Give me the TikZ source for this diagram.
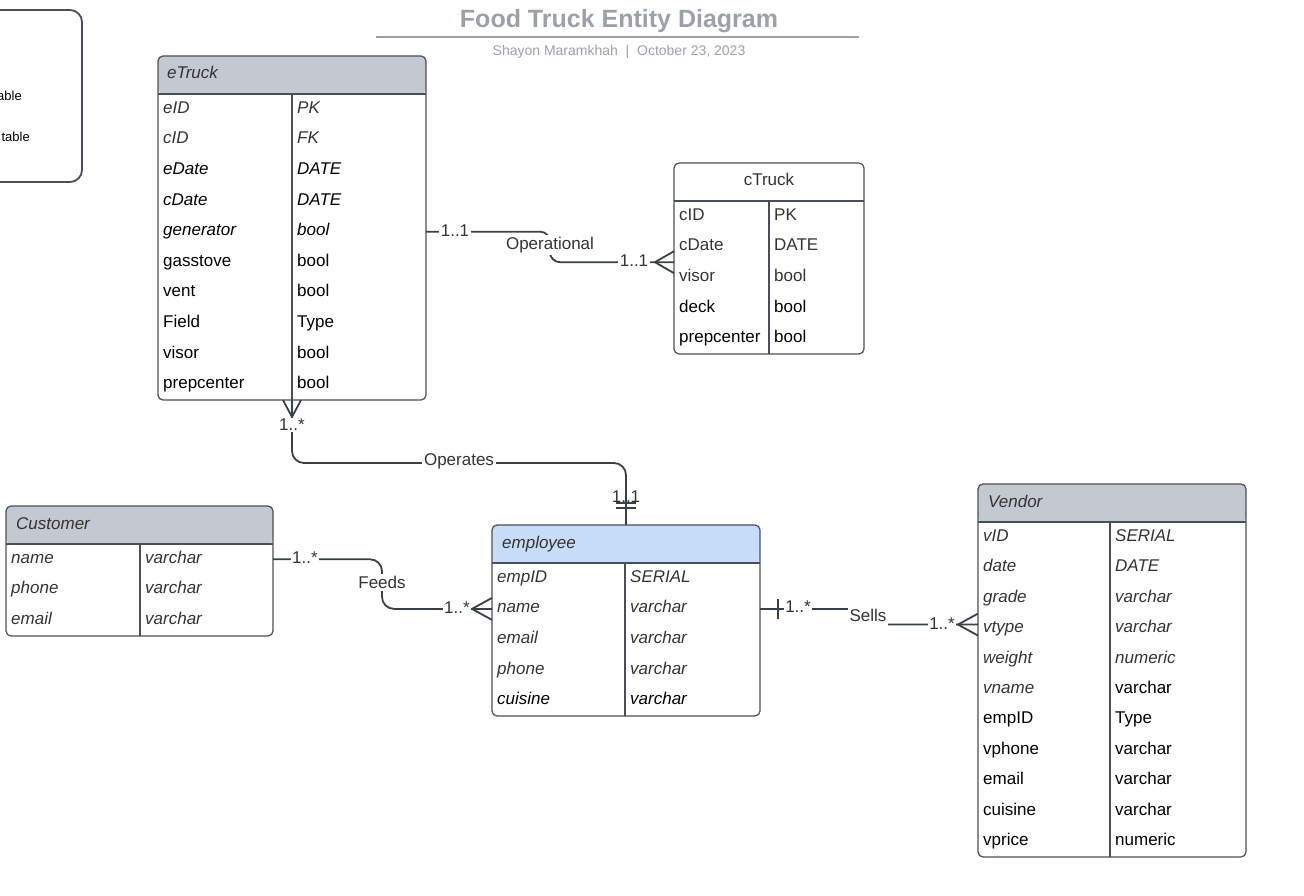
\documentclass[tikz,border=0pt]{standalone}
\usepackage{fontspec}
\setmainfont{Liberation Sans}
\usetikzlibrary{positioning}

\definecolor{hdrgray}{HTML}{C3C8D1}
\definecolor{hdrblue}{HTML}{C7DCF8}
\definecolor{framegray}{HTML}{4A4F57}
\definecolor{linegray}{HTML}{3A4048}
\definecolor{txtgray}{HTML}{333333}
\definecolor{titlegray}{HTML}{9BA1A9}
\newcommand{\rowfont}{\fontsize{17}{19}\selectfont}

\begin{document}
\begin{tikzpicture}[
    x=1pt, y=-1pt,
    frame/.style={draw=framegray, line width=1.2pt, rounded corners=5pt, inner sep=0pt, outer sep=0pt, anchor=north west},
    hdrfill/.style={path picture={\fill[#1] (path picture bounding box.north west) rectangle ([yshift=-38pt]path picture bounding box.north east);}},
    frameline/.style={draw=framegray, line width=1.2pt},
    ig/.style={anchor=base west, inner sep=0pt, font=\rowfont\itshape, text=txtgray},
    ib/.style={anchor=base west, inner sep=0pt, font=\rowfont\itshape, text=black},
    ng/.style={anchor=base west, inner sep=0pt, font=\rowfont, text=txtgray},
    nb/.style={anchor=base west, inner sep=0pt, font=\rowfont, text=black},
    conn/.style={draw=linegray, line width=1.8pt},
    card/.style={font=\rowfont, text=txtgray, fill=white, inner sep=1.5pt},
    rel/.style={font=\rowfont, text=txtgray, fill=white, inner sep=2pt}
]
    \useasboundingbox (0,0) rectangle (1304,896);

    % Title block
    \node [font=\fontsize{25}{28}\selectfont\bfseries, text=titlegray, anchor=base] (title) at (619,28) {Food Truck Entity Diagram};
    \draw [titlegray, line width=1.6pt] (376,37) -- (859,37);
    \node [font=\fontsize{14}{16}\selectfont, text=titlegray, anchor=base] (byline) at (619,56) {Shayon Maramkhah \ | \ October 23, 2023};

    % Legend (cut off at the left edge)
    \draw [draw=framegray, line width=1.8pt, rounded corners=12pt] (-30,10) rectangle (82,182);
    \node [anchor=base east, inner sep=0pt, font=\fontsize{13}{16}\selectfont] (legend-1) at (22,101) {able};
    \node [anchor=base east, inner sep=0pt, font=\fontsize{13}{16}\selectfont] (legend-2) at (30,142) {table};

    % eTruck
    \node [frame, hdrfill=hdrgray, minimum width=268pt, minimum height=344pt] (etruck) at (158,56) {};
    \draw [frameline] ([yshift=-38pt]etruck.north west) -- ([yshift=-38pt]etruck.north east);
    \draw [frameline] ([xshift=134pt,yshift=-38pt]etruck.north west) -- ([xshift=134pt]etruck.south west);
    \node [ig] (etruck-title) at (167,79) {eTruck};
    \foreach \f/\s/\t/\u [count=\i] in {eID/ig/PK/ig, cID/ig/FK/ig, eDate/ib/DATE/ib, cDate/ib/DATE/ib, generator/ib/bool/ib, gasstove/nb/bool/nb, vent/nb/bool/nb, Field/nb/Type/nb, visor/nb/bool/nb, prepcenter/nb/bool/nb} {
        \pgfmathsetmacro\ry{94+30.6*(\i-0.5)}
        \coordinate (et-\i) at (158,\ry);
        \node [\s] (et-\i-name) at (163,\ry+4) {\f};
        \node [\u] (et-\i-type) at (297,\ry+4) {\t};
    }

    % cTruck
    \node [frame, minimum width=190pt, minimum height=191pt] (ctruck) at (674,163) {};
    \draw [frameline] ([yshift=-38pt]ctruck.north west) -- ([yshift=-38pt]ctruck.north east);
    \draw [frameline] ([xshift=95pt,yshift=-38pt]ctruck.north west) -- ([xshift=95pt]ctruck.south west);
    \node [ng, anchor=base] (ctruck-title) at (769,186) {cTruck};
    \foreach \f/\s/\t/\u [count=\i] in {cID/ng/PK/ng, cDate/ng/DATE/ng, visor/ng/bool/ng, deck/nb/bool/nb, prepcenter/nb/bool/nb} {
        \pgfmathsetmacro\ry{201+30.6*(\i-0.5)}
        \coordinate (ct-\i) at (674,\ry);
        \node [\s] (ct-\i-name) at (679,\ry+4) {\f};
        \node [\u] (ct-\i-type) at (774,\ry+4) {\t};
    }

    % Customer
    \node [frame, hdrfill=hdrgray, minimum width=267pt, minimum height=130pt] (customer) at (6,506) {};
    \draw [frameline] ([yshift=-38pt]customer.north west) -- ([yshift=-38pt]customer.north east);
    \draw [frameline] ([xshift=134pt,yshift=-38pt]customer.north west) -- ([xshift=134pt]customer.south west);
    \node [ig] (customer-title) at (16,529) {Customer};
    \foreach \f/\s/\t/\u [count=\i] in {name/ig/varchar/ig, phone/ig/varchar/ig, email/ig/varchar/ig} {
        \pgfmathsetmacro\ry{544+30.6*(\i-0.5)}
        \coordinate (cu-\i) at (6,\ry);
        \node [\s] (cu-\i-name) at (11,\ry+4) {\f};
        \node [\u] (cu-\i-type) at (145,\ry+4) {\t};
    }

    % employee
    \node [frame, hdrfill=hdrblue, minimum width=268pt, minimum height=191pt] (employee) at (492,525) {};
    \draw [frameline] ([yshift=-38pt]employee.north west) -- ([yshift=-38pt]employee.north east);
    \draw [frameline] ([xshift=133pt,yshift=-38pt]employee.north west) -- ([xshift=133pt]employee.south west);
    \node [ig] (employee-title) at (502,548) {employee};
    \foreach \f/\s/\t/\u [count=\i] in {empID/ig/SERIAL/ig, name/ig/varchar/ig, email/ig/varchar/ig, phone/ig/varchar/ig, cuisine/ib/varchar/ib} {
        \pgfmathsetmacro\ry{563+30.6*(\i-0.5)}
        \coordinate (em-\i) at (492,\ry);
        \node [\s] (em-\i-name) at (497,\ry+4) {\f};
        \node [\u] (em-\i-type) at (630,\ry+4) {\t};
    }

    % Vendor
    \node [frame, hdrfill=hdrgray, minimum width=268pt, minimum height=373pt] (vendor) at (978,484) {};
    \draw [frameline] ([yshift=-38pt]vendor.north west) -- ([yshift=-38pt]vendor.north east);
    \draw [frameline] ([xshift=132pt,yshift=-38pt]vendor.north west) -- ([xshift=132pt]vendor.south west);
    \node [ig] (vendor-title) at (988,507) {Vendor};
    \foreach \f/\s/\t/\u [count=\i] in {vID/ig/SERIAL/ig, date/ig/DATE/ig, grade/ig/varchar/ig, vtype/ig/varchar/ig, weight/ig/numeric/ig, vname/ig/varchar/nb, empID/nb/Type/nb, vphone/nb/varchar/nb, email/nb/varchar/nb, cuisine/nb/varchar/nb, vprice/nb/numeric/nb} {
        \pgfmathsetmacro\ry{522+30.45*(\i-0.5)}
        \coordinate (ve-\i) at (978,\ry);
        \node [\s] (ve-\i-name) at (983,\ry+4) {\f};
        \node [\u] (ve-\i-type) at (1115,\ry+4) {\t};
    }

    % Operational: eTruck -- cTruck
    \coordinate (opl-a) at (et-5 -| etruck.east);
    \coordinate (opl-b) at ([yshift=-15.3pt]ct-2 -| ctruck.west);
    \draw [conn, rounded corners=10pt] (opl-a) -- ++(124,0) |- (opl-b);
    \draw [conn] ([yshift=11pt]opl-b) -- ([xshift=-19pt]opl-b) -- ([yshift=-11pt]opl-b);
    \path (opl-a) ++(29,-1) node [card] (opl-card-a) {1..1};
    \path (opl-b) ++(-40,-2) node [card] (opl-card-b) {1..1};
    \path (opl-a) ++(124,13) node [rel] (opl-label) {Operational};

    % Operates: eTruck -- employee
    \coordinate (ops-a) at ([xshift=134pt]etruck.south west);
    \draw [conn, rounded corners=12pt] (ops-a) -- ++(0,63) -| (employee.north);
    \draw [conn] ([xshift=-9pt]ops-a) -- ([yshift=-17pt]ops-a) -- ([xshift=9pt]ops-a);
    \path (ops-a) ++(0,25) node [card] (ops-card-a) {1..*};
    \path (ops-a) ++(167,61) node [rel] (ops-label) {Operates};
    \node [card, fill=none] (ops-card-b) at ([yshift=28pt]employee.north) {1..1};
    \draw [conn] ([xshift=-10pt,yshift=22pt]employee.north) -- ++(20,0);
    \draw [conn] ([xshift=-10pt,yshift=17pt]employee.north) -- ++(20,0);

    % Feeds: Customer -- employee
    \coordinate (fds-a) at (cu-1 -| customer.east);
    \coordinate (fds-b) at (em-2 -| employee.west);
    \draw [conn, rounded corners=12pt] (fds-a) -- ++(109,0) |- (fds-b);
    \draw [conn] ([yshift=11pt]fds-b) -- ([xshift=-20pt]fds-b) -- ([yshift=-11pt]fds-b);
    \path (fds-a) ++(32,-2) node [card] (fds-card-a) {1..*};
    \path (fds-b) ++(-35,-1) node [card] (fds-card-b) {1..*};
    \path (fds-a) ++(109,23) node [rel] (fds-label) {Feeds};

    % Sells: employee -- Vendor
    \coordinate (sls-a) at (em-2 -| employee.east);
    \coordinate (sls-b) at ([yshift=4pt]ve-4 -| vendor.west);
    \draw [conn, rounded corners=7pt] (sls-a) -- ++(108,0) |- (sls-b);
    \draw [conn] ([xshift=18pt,yshift=10pt]sls-a) -- ++(0,20);
    \draw [conn] ([yshift=11pt]sls-b) -- ([xshift=-20pt]sls-b) -- ([yshift=-11pt]sls-b);
    \path (sls-a) ++(38,-2) node [card] (sls-card-a) {1..*};
    \path (sls-b) ++(-36,-1) node [card] (sls-card-b) {1..*};
    \path (sls-a) ++(108,7) node [rel, minimum height=22pt] (sls-label) {Sells};

\end{tikzpicture}
\end{document}
